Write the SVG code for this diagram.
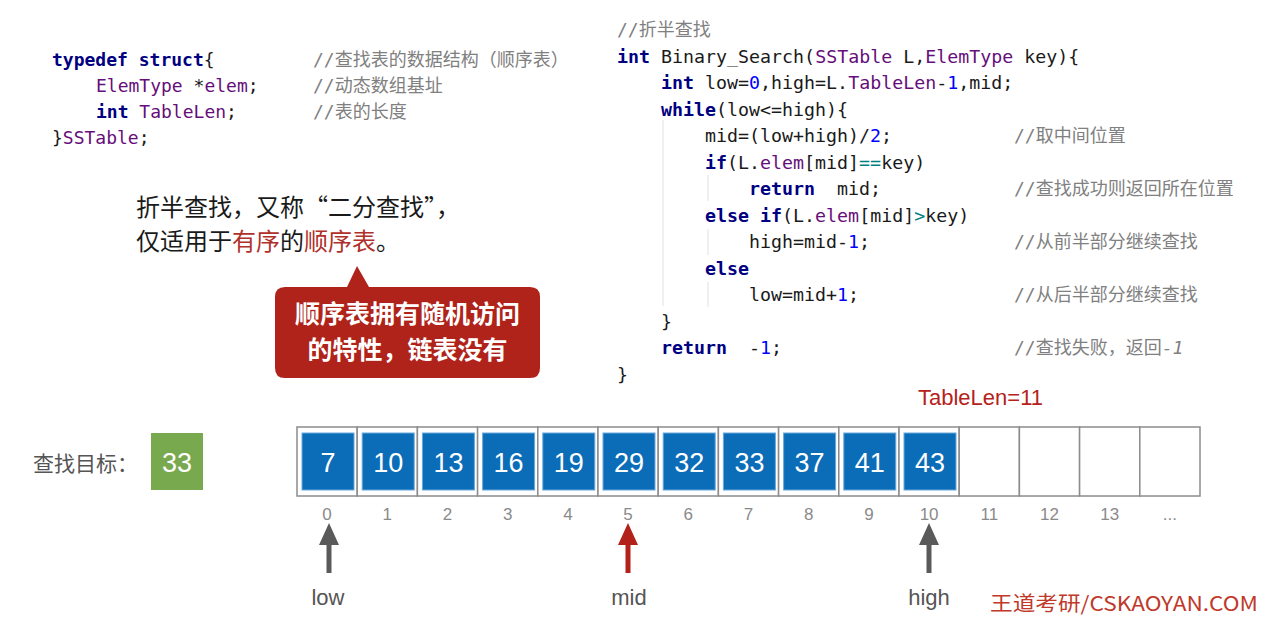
<svg xmlns="http://www.w3.org/2000/svg" width="1277" height="623" viewBox="0 0 1277 623">
<style>
.code{font-family:"DejaVu Sans Mono","Noto Sans CJK SC",monospace;font-size:18px;fill:#1a1a1a;white-space:pre}
.rc{font-size:18.3px}
.kw{fill:#000080;font-weight:bold}
.ty{fill:#660e7a}
.num{fill:#0000ff}
.op{fill:#008080}
.cm{font-family:"DejaVu Sans Mono","Noto Sans CJK SC",monospace;font-size:18px;fill:#808080}
.guide{stroke:#e0e0e0;stroke-width:1}
.para{font-family:"Noto Sans CJK SC",sans-serif;font-size:24px;fill:#1a1a1a}
.red{fill:#b0302a}
.callout{font-family:"Noto Sans CJK SC",sans-serif;font-size:25px;font-weight:bold;fill:#ffffff}
.cell{fill:#ffffff;stroke:#8c8c8c;stroke-width:1.5}
.blue{fill:#0b6db7;stroke:#6aa9dc;stroke-width:1}
.val{font-family:"Liberation Sans",Arial,sans-serif;font-size:27px;fill:#ffffff;text-anchor:middle}
.idx{font-family:"Liberation Sans",Arial,sans-serif;font-size:17px;fill:#8a8a8a;text-anchor:middle}
.lbl{font-family:"Liberation Sans",Arial,sans-serif;font-size:22px;fill:#555555;text-anchor:middle}
</style>
<rect width="1277" height="623" fill="#ffffff"/>

<g id="struct-code">
<text class="code" x="52" y="66"><tspan class="kw">typedef</tspan> <tspan class="kw">struct</tspan>{</text>
<text class="code" x="96" y="92"><tspan class="ty">ElemType</tspan> *<tspan class="ty">elem</tspan>;</text>
<text class="code" x="96" y="118"><tspan class="kw">int</tspan> <tspan class="ty">TableLen</tspan>;</text>
<text class="code" x="52" y="144">}<tspan class="ty">SSTable</tspan>;</text>
<text class="cm" x="313" y="66">//查找表的数据结构（顺序表）</text>
<text class="cm" x="313" y="92">//动态数组基址</text>
<text class="cm" x="313" y="118">//表的长度</text>
</g>

<g id="search-code">
<line class="guide" x1="663" y1="120" x2="663" y2="306"/>
<line class="guide" x1="708" y1="175" x2="708" y2="201"/>
<line class="guide" x1="708" y1="229" x2="708" y2="255"/>
<line class="guide" x1="708" y1="282" x2="708" y2="307"/>
<text class="cm" x="617" y="36">//折半查找</text>
<text class="code rc" x="617" y="62.5"><tspan class="kw">int</tspan> Binary_Search(<tspan class="ty">SSTable</tspan> L,<tspan class="ty">ElemType</tspan> key){</text>
<text class="code rc" x="661" y="89"><tspan class="kw">int</tspan> low=<tspan class="num">0</tspan>,high=L.<tspan class="ty">TableLen</tspan>-<tspan class="num">1</tspan>,mid;</text>
<text class="code rc" x="661" y="115.5"><tspan class="kw">while</tspan>(low&lt;=high){</text>
<text class="code rc" x="705" y="142">mid=(low+high)/<tspan class="num">2</tspan>;</text>
<text class="code rc" x="705" y="168.5"><tspan class="kw">if</tspan>(L.<tspan class="ty">elem</tspan>[mid]<tspan class="op">==</tspan>key)</text>
<text class="code rc" x="749" y="195"><tspan class="kw">return</tspan>  mid;</text>
<text class="code rc" x="705" y="221.5"><tspan class="kw">else</tspan> <tspan class="kw">if</tspan>(L.<tspan class="ty">elem</tspan>[mid]<tspan class="op">&gt;</tspan>key)</text>
<text class="code rc" x="749" y="248">high=mid-<tspan class="num">1</tspan>;</text>
<text class="code rc" x="705" y="274.5"><tspan class="kw">else</tspan></text>
<text class="code rc" x="749" y="301">low=mid+<tspan class="num">1</tspan>;</text>
<text class="code rc" x="661" y="327.5">}</text>
<text class="code rc" x="661" y="354"><tspan class="kw">return</tspan>  -<tspan class="num">1</tspan>;</text>
<text class="code rc" x="617" y="380.5">}</text>
<text class="cm" x="1014" y="142">//取中间位置</text>
<text class="cm" x="1014" y="195">//查找成功则返回所在位置</text>
<text class="cm" x="1014" y="248">//从前半部分继续查找</text>
<text class="cm" x="1014" y="301">//从后半部分继续查找</text>
<text class="cm" x="1014" y="354">//查找失败，返回<tspan font-style="italic">-1</tspan></text>
</g>

<g id="description">
<text class="para" x="136" y="216">折半查找，又称“二分查找”，</text>
<text class="para" x="136" y="250">仅适用于<tspan class="red">有序</tspan>的<tspan class="red">顺序表</tspan>。</text>
</g>

<g id="callout">
<path d="M285,287 H347 L357,266 L369,287 H530 Q540,287 540,297 V368 Q540,378 530,378 H285 Q275,378 275,368 V297 Q275,287 285,287 Z" fill="#b0231a"/>
<text class="callout" x="407.5" y="323" text-anchor="middle">顺序表拥有随机访问</text>
<text class="callout" x="407.5" y="359" text-anchor="middle">的特性，链表没有</text>
</g>

<g id="target">
<text x="33" y="471" font-family="Noto Sans CJK SC,sans-serif" font-size="21" fill="#555555">查找目标：</text>
<rect x="151" y="433" width="52" height="57" fill="#78a94e"/>
<text class="val" x="177" y="472">33</text>
</g>

<g id="tablelen">
<text x="918" y="405" font-family="Liberation Sans,Arial,sans-serif" font-size="22" fill="#b5221b">TableLen=11</text>
</g>

<g id="array">
<rect class="cell" x="297" y="427" width="60.2" height="69"/>
<rect class="cell" x="357.2" y="427" width="60.2" height="69"/>
<rect class="cell" x="417.4" y="427" width="60.2" height="69"/>
<rect class="cell" x="477.6" y="427" width="60.2" height="69"/>
<rect class="cell" x="537.8" y="427" width="60.2" height="69"/>
<rect class="cell" x="598" y="427" width="60.2" height="69"/>
<rect class="cell" x="658.2" y="427" width="60.2" height="69"/>
<rect class="cell" x="718.4" y="427" width="60.2" height="69"/>
<rect class="cell" x="778.6" y="427" width="60.2" height="69"/>
<rect class="cell" x="838.8" y="427" width="60.2" height="69"/>
<rect class="cell" x="899" y="427" width="60.2" height="69"/>
<rect class="cell" x="959.2" y="427" width="60.2" height="69"/>
<rect class="cell" x="1019.4" y="427" width="60.2" height="69"/>
<rect class="cell" x="1079.6" y="427" width="60.2" height="69"/>
<rect class="cell" x="1139.8" y="427" width="60.2" height="69"/>
<rect class="blue" x="302" y="433" width="52" height="57"/>
<rect class="blue" x="362.2" y="433" width="52" height="57"/>
<rect class="blue" x="422.4" y="433" width="52" height="57"/>
<rect class="blue" x="482.6" y="433" width="52" height="57"/>
<rect class="blue" x="542.8" y="433" width="52" height="57"/>
<rect class="blue" x="603" y="433" width="52" height="57"/>
<rect class="blue" x="663.2" y="433" width="52" height="57"/>
<rect class="blue" x="723.4" y="433" width="52" height="57"/>
<rect class="blue" x="783.6" y="433" width="52" height="57"/>
<rect class="blue" x="843.8" y="433" width="52" height="57"/>
<rect class="blue" x="904" y="433" width="52" height="57"/>
<text class="val" x="328" y="472">7</text>
<text class="val" x="388.2" y="472">10</text>
<text class="val" x="448.4" y="472">13</text>
<text class="val" x="508.6" y="472">16</text>
<text class="val" x="568.8" y="472">19</text>
<text class="val" x="629" y="472">29</text>
<text class="val" x="689.2" y="472">32</text>
<text class="val" x="749.4" y="472">33</text>
<text class="val" x="809.6" y="472">37</text>
<text class="val" x="869.8" y="472">41</text>
<text class="val" x="930" y="472">43</text>
<text class="idx" x="327.1" y="520">0</text>
<text class="idx" x="387.3" y="520">1</text>
<text class="idx" x="447.5" y="520">2</text>
<text class="idx" x="507.7" y="520">3</text>
<text class="idx" x="567.9" y="520">4</text>
<text class="idx" x="628.1" y="520">5</text>
<text class="idx" x="688.3" y="520">6</text>
<text class="idx" x="748.5" y="520">7</text>
<text class="idx" x="808.7" y="520">8</text>
<text class="idx" x="868.9" y="520">9</text>
<text class="idx" x="929.1" y="520">10</text>
<text class="idx" x="989.3" y="520">11</text>
<text class="idx" x="1049.5" y="520">12</text>
<text class="idx" x="1109.7" y="520">13</text>
<text class="idx" x="1169.9" y="520">...</text>
</g>

<g id="connectors">
<path d="M329,523 L339,545 L331.5,545 L331.5,573 L326.5,573 L326.5,545 L319,545 Z" fill="#5a5a5a"/>
<path d="M628,523 L638,545 L630.5,545 L630.5,573 L625.5,573 L625.5,545 L618,545 Z" fill="#b3221a"/>
<path d="M929,523 L939,545 L931.5,545 L931.5,573 L926.5,573 L926.5,545 L919,545 Z" fill="#5a5a5a"/>
</g>

<g id="pointer-labels">
<text class="lbl" x="328" y="605">low</text>
<text class="lbl" x="629" y="605">mid</text>
<text class="lbl" x="929" y="605">high</text>
</g>

<g id="brand">
<text x="990" y="611" font-family="Noto Sans CJK SC,sans-serif" font-size="20" fill="#c0392b" textLength="268" lengthAdjust="spacingAndGlyphs">王道考研/CSKAOYAN.COM</text>
</g>
</svg>
